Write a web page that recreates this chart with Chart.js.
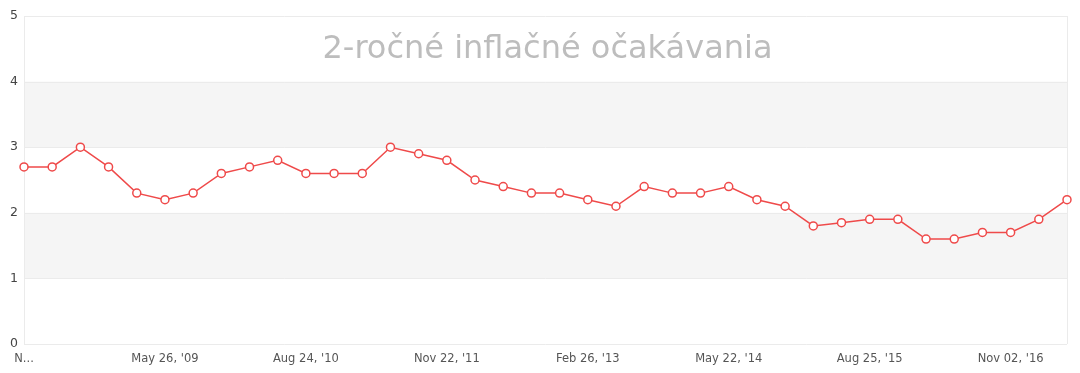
<!DOCTYPE html>
<html>
<head>
<meta charset="utf-8">
<script src="https://cdn.jsdelivr.net/npm/chart.js@4/dist/chart.umd.min.js"></script>
<style>
html,body{margin:0;padding:0;background:#fff;}
#wrap{width:1080px;height:373px;position:relative;}
</style>
</head>
<body>
<div id="wrap"><canvas id="c" width="1080" height="373"></canvas></div>
<script>
const title = "2-ročné inflačné očakávania";
const labels = [
  "Nov 27, '07","Feb 28, '08","May 28, '08","Aug 27, '08","Nov 26, '08",
  "May 26, '09","Aug 25, '09","Nov 24, '09","Feb 23, '10","May 25, '10",
  "Aug 24, '10","Nov 23, '10","Feb 22, '11","May 24, '11","Aug 23, '11",
  "Nov 22, '11","Feb 21, '12","May 22, '12","Aug 21, '12","Nov 20, '12",
  "Feb 26, '13","May 21, '13","Aug 20, '13","Nov 19, '13","Feb 18, '14",
  "May 22, '14","Aug 19, '14","Nov 18, '14","Feb 17, '15","May 19, '15",
  "Aug 25, '15","Nov 17, '15","Feb 16, '16","May 17, '16","Aug 16, '16",
  "Nov 02, '16","Feb 14, '17","May 16, '17"
];
const values = [
  2.7, 2.7, 3.0, 2.7, 2.3, 2.2, 2.3, 2.6, 2.7, 2.8,
  2.6, 2.6, 2.6, 3.0, 2.9, 2.8, 2.5, 2.4, 2.3, 2.3,
  2.2, 2.1, 2.4, 2.3, 2.3, 2.4, 2.2, 2.1, 1.8, 1.85,
  1.9, 1.9, 1.6, 1.6, 1.7, 1.7, 1.9, 2.2
];
const yTicks = [0, 1, 2, 3, 4, 5];
const bands = [[1, 2], [3, 4]];

const bandPlugin = {
  id: 'bands',
  beforeDatasetsDraw(chart) {
    const {ctx, chartArea, scales: {y}} = chart;
    ctx.save();
    ctx.fillStyle = '#f5f5f5';
    bands.forEach(([a, b]) => {
      const y1 = y.getPixelForValue(b), y2 = y.getPixelForValue(a);
      ctx.fillRect(chartArea.left, y1, chartArea.right - chartArea.left, y2 - y1);
    });
    // redraw gridlines over bands
    ctx.strokeStyle = '#ebebeb';
    ctx.lineWidth = 1;
    yTicks.forEach(v => {
      const py = Math.round(y.getPixelForValue(v)) + 0.5;
      ctx.beginPath(); ctx.moveTo(chartArea.left, py); ctx.lineTo(chartArea.right, py); ctx.stroke();
    });
    ctx.beginPath();
    ctx.moveTo(Math.round(chartArea.right) + 0.5, chartArea.top);
    ctx.lineTo(Math.round(chartArea.right) + 0.5, chartArea.bottom);
    ctx.moveTo(Math.round(chartArea.left) + 0.5, chartArea.top);
    ctx.lineTo(Math.round(chartArea.left) + 0.5, chartArea.bottom);
    ctx.stroke();
    // title
    ctx.fillStyle = '#bdbdbd';
    ctx.textAlign = 'center';
    ctx.textBaseline = 'middle';
    let size = 34;
    ctx.font = size + 'px "DejaVu Sans"';
    const w = ctx.measureText(title).width;
    size = size * 450 / w;
    ctx.font = size.toFixed(1) + 'px "DejaVu Sans"';
    ctx.fillText(title, (chartArea.left + chartArea.right) / 2 + 2, chartArea.top + 34);
    ctx.restore();
  }
};

new Chart(document.getElementById('c'), {
  type: 'line',
  data: {
    labels: labels,
    datasets: [{
      data: values,
      borderColor: '#ef4a4a',
      borderWidth: 1.5,
      backgroundColor: '#ffffff',
      pointBackgroundColor: '#ffffff',
      pointBorderColor: '#ef4a4a',
      pointBorderWidth: 1.5,
      pointRadius: 4,
      tension: 0,
      fill: false
    }]
  },
  options: {
    responsive: false,
    animation: false,
    layout: {padding: {top: 16, right: 13, left: 0, bottom: 0}},
    plugins: {legend: {display: false}, tooltip: {enabled: false}, title: {display: false}},
    scales: {
      x: {
        offset: false,
        grid: {display: false, drawTicks: false},
        border: {display: false},
        afterFit(s) { s.height = 29; },
        ticks: {
          autoSkip: false,
          maxRotation: 0,
          padding: 8,
          color: '#555',
          font: {family: '"DejaVu Sans"', size: 11.5},
          callback(v, i) {
            if (i === 0) return labels[0].charAt(0) + '...';
            return i % 5 === 0 ? labels[i] : '';
          }
        }
      },
      y: {
        min: 0, max: 5,
        afterFit(s) { s.width = 24; },
        afterBuildTicks(s) { s.ticks = yTicks.map(v => ({value: v})); },
        grid: {display: false, drawTicks: false},
        border: {display: false},
        ticks: {
          padding: 6,
          color: '#444',
          font: {family: '"DejaVu Sans"', size: 12.5}
        }
      }
    }
  },
  plugins: [bandPlugin]
});
</script>
</body>
</html>
